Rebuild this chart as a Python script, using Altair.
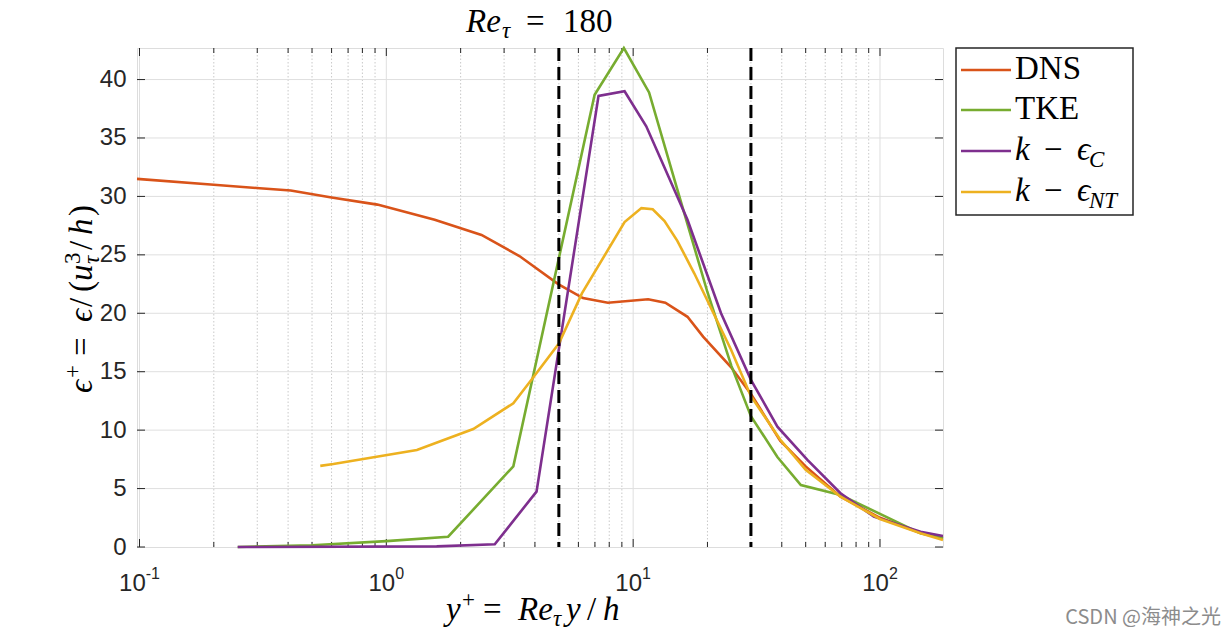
import altair as alt
import pandas as pd

# ---------------- data ----------------
DNS_X = [0.0977, 0.2, 0.307, 0.41, 0.6, 0.92, 1.57, 2.43, 3.46, 4.97, 6.26, 7.9,
         11.5, 13.5, 16.6, 19.2, 24.9, 30.0, 39.4, 50.0, 69.2, 100.0, 146.0, 180.0]
DNS_Y = [31.5, 31.0, 30.7, 30.5, 29.9, 29.3, 28.0, 26.7, 24.9, 22.5, 21.3, 20.9,
         21.2, 20.9, 19.7, 18.0, 15.4, 13.1, 9.1, 6.9, 4.3, 2.5, 1.2, 0.8]

TKE_X = [0.25, 0.5, 1.0, 1.78, 3.27, 6.98, 9.17, 11.6, 15.0, 20.0, 25.0, 30.0,
         38.4, 47.8, 69.2, 146.0, 180.0]
TKE_Y = [0.0, 0.15, 0.5, 0.88, 6.9, 38.7, 42.7, 38.9, 30.8, 21.8, 15.5, 11.2,
         7.7, 5.3, 4.45, 1.17, 0.75]

KC_X = [0.25, 1.6, 2.75, 4.06, 7.24, 9.23, 11.3, 13.0, 16.6, 22.7, 30.0, 38.4,
        50.8, 69.2, 94.4, 146.0, 180.0]
KC_Y = [0.0, 0.05, 0.23, 4.74, 38.6, 39.0, 36.0, 33.1, 28.0, 20.0, 14.3, 10.3,
        7.45, 4.6, 2.6, 1.3, 0.94]

NT_X = [0.54, 0.61, 1.33, 2.25, 3.27, 3.9, 5.0, 6.2, 9.23, 10.8, 12.0, 13.4,
        15.1, 17.7, 24.9, 30.0, 39.4, 50.0, 69.2, 100.0, 146.0, 180.0]
NT_Y = [6.94, 7.1, 8.3, 10.1, 12.3, 14.4, 17.4, 21.7, 27.8, 29.0, 28.9, 27.9,
        26.2, 23.4, 16.9, 12.9, 9.2, 6.6, 4.3, 2.4, 1.17, 0.6]

DASH_X = [5, 30]

X_MAJOR = [0.1, 1, 10, 100]
X_EXP = ["-1", "0", "1", "2"]
X_MINOR = [0.2, 0.3, 0.4, 0.5, 0.6, 0.7, 0.8, 0.9,
           2, 3, 4, 5, 6, 7, 8, 9,
           20, 30, 40, 50, 60, 70, 80, 90]
Y_TICKS = [0, 5, 10, 15, 20, 25, 30, 35, 40]
Y_MAX = 42.7

SERIES = ["DNS", "TKE", "k-eps_C", "k-eps_NT"]
COLORS = ["#D95319", "#77AC30", "#7E2F8E", "#EDB120"]

# ---------------- layout ----------------
OX, OY = 137, 48          # page position of the plot area
W, H = 806, 499
SERIF = "Liberation Serif"
SANS = "Liberation Sans"
AX = "#262626"
LW = 2.6

xs = alt.Scale(type="log", domain=[min(DNS_X), max(DNS_X)], nice=False)
ys = alt.Scale(domain=[0, Y_MAX], nice=False)
XE = alt.X("x:Q", scale=xs, axis=None)
YE = alt.Y("y:Q", scale=ys,
           axis=alt.Axis(values=Y_TICKS, grid=False, ticks=False, tickSize=0,
                         domain=False, labelFont=SANS, labelFontSize=24,
                         labelColor=AX, labelPadding=11, title=None))

ONE = pd.DataFrame({"k": [0]})


def txt(s, px, py, size=33, italic=False, angle=0, font=SERIF, color="black", align="left"):
    kw = dict(text=s, font=font, fontSize=size, align=align, baseline="alphabetic", color=color)
    if italic:
        kw["fontStyle"] = "italic"
    if angle:
        kw["angle"] = angle
    return alt.Chart(ONE).mark_text(**kw).encode(x=alt.value(px - OX), y=alt.value(py - OY))


layers = []

# grid
layers.append(alt.Chart(pd.DataFrame({"x": X_MINOR})).mark_rule(
    color="#c9c9c9", strokeWidth=1, strokeDash=[1.5, 2]).encode(x=XE))
layers.append(alt.Chart(pd.DataFrame({"x": X_MAJOR})).mark_rule(
    color="#dfdfdf", strokeWidth=1).encode(x=XE))
layers.append(alt.Chart(pd.DataFrame({"y": Y_TICKS[1:]})).mark_rule(
    color="#dfdfdf", strokeWidth=1).encode(y=YE))

# inward ticks
for vals, ln in ((X_MAJOR, 8), (X_MINOR, 5)):
    d = pd.DataFrame({"x": vals})
    layers.append(alt.Chart(d).mark_rule(color=AX, strokeWidth=1).encode(
        x=XE, y=alt.value(H), y2=alt.value(H - ln)))
    layers.append(alt.Chart(d).mark_rule(color=AX, strokeWidth=1).encode(
        x=XE, y=alt.value(0), y2=alt.value(ln)))
dy = pd.DataFrame({"y": Y_TICKS})
layers.append(alt.Chart(dy).mark_rule(color=AX, strokeWidth=1).encode(
    y=YE, x=alt.value(0), x2=alt.value(8)))
layers.append(alt.Chart(dy).mark_rule(color=AX, strokeWidth=1).encode(
    y=YE, x=alt.value(W - 8), x2=alt.value(W)))

# data lines
for (xv, yv), col in zip([(DNS_X, DNS_Y), (TKE_X, TKE_Y), (KC_X, KC_Y), (NT_X, NT_Y)], COLORS):
    layers.append(alt.Chart(pd.DataFrame({"x": xv, "y": yv})).mark_line(
        color=col, strokeWidth=LW).encode(x=XE, y=YE))

# dashed vertical lines
layers.append(alt.Chart(pd.DataFrame({"x": DASH_X})).mark_rule(
    color="black", strokeWidth=3, strokeDash=[13, 6]).encode(x=XE))

# x tick labels 10^n
W10 = 26.7
for v, e in zip(X_MAJOR, X_EXP):
    we = (14.2 if e.startswith("-") else 8.9)
    tot = W10 + we
    layers.append(alt.Chart(ONE).mark_text(
        text="10", font=SANS, fontSize=24, color=AX, align="left", baseline="alphabetic",
        dx=-tot / 2).encode(x=alt.datum(v), y=alt.value(591 - OY)))
    layers.append(alt.Chart(ONE).mark_text(
        text=e, font=SANS, fontSize=16, color=AX, align="left", baseline="alphabetic",
        dx=-tot / 2 + W10).encode(x=alt.datum(v), y=alt.value(579 - OY)))

# title  Re_tau = 180
layers += [
    txt("Re", 466, 32, italic=True),
    txt("τ", 502, 38, size=23, italic=True),
    txt("=", 526, 32),
    txt("180", 563, 32),
]

# x title  y+ = Re_tau y / h
XB = 620
layers += [
    txt("y", 446, XB, italic=True),
    txt("+", 462, XB - 13, size=23),
    txt("=", 483, XB),
    txt("Re", 518, XB, italic=True),
    txt("τ", 553, XB + 6, size=23, italic=True),
    txt("y", 566, XB, italic=True),
    txt("/", 587, XB),
    txt("h", 603, XB, italic=True),
]

# y title  eps+ = eps/(u_tau^3/h)  (rotated)
BX = 92
layers += [
    txt("ϵ", BX, 393, italic=True, angle=270),
    txt("+", BX - 12, 378, size=23, angle=270),
    txt("=", BX, 356, angle=270),
    txt("ϵ", BX, 322, italic=True, angle=270),
    txt("/", BX, 307, angle=270),
    txt("(", BX, 292, angle=270),
    txt("u", BX, 281, italic=True, angle=270),
    txt("3", BX - 12, 264, size=23, angle=270),
    txt("τ", BX + 7, 264, size=23, italic=True, angle=270),
    txt("/", BX, 250, angle=270),
    txt("h", BX, 235, italic=True, angle=270),
    txt(")", BX, 216, angle=270),
]

# legend
layers.append(alt.Chart(ONE).mark_rect(fill="white", stroke=AX, strokeWidth=1.5).encode(
    x=alt.value(956 - OX), x2=alt.value(1133 - OX), y=alt.value(48 - OY), y2=alt.value(215 - OY)))
for col, ly in zip(COLORS, [70, 110, 151, 192]):
    layers.append(alt.Chart(ONE).mark_rule(color=col, strokeWidth=LW).encode(
        x=alt.value(961 - OX), x2=alt.value(1011 - OX), y=alt.value(ly - OY)))
layers += [
    txt("DNS", 1015, 79),
    txt("TKE", 1015, 119),
    txt("k", 1015, 160, italic=True),
    txt("−", 1044, 160),
    txt("ϵ", 1077, 160, italic=True),
    txt("C", 1089, 167, size=23, italic=True),
    txt("k", 1015, 201, italic=True),
    txt("−", 1044, 201),
    txt("ϵ", 1077, 201, italic=True),
    txt("NT", 1089, 208, size=23, italic=True),
]

# watermark
layers.append(txt("CSDN @海神之光", 1221, 624, size=20, font="Noto Sans CJK SC",
                  color="#8c8c8c", align="right"))

chart = alt.layer(*layers).properties(
    width=W, height=H,
    autosize=alt.AutoSizeParams(type="none"),
    padding={"left": OX - 8, "top": OY - 8, "right": 280, "bottom": 80},
).configure_view(stroke=AX, strokeWidth=1).configure(background="white")

chart.save("out.html", embed_options={"renderer": "svg", "actions": False})
